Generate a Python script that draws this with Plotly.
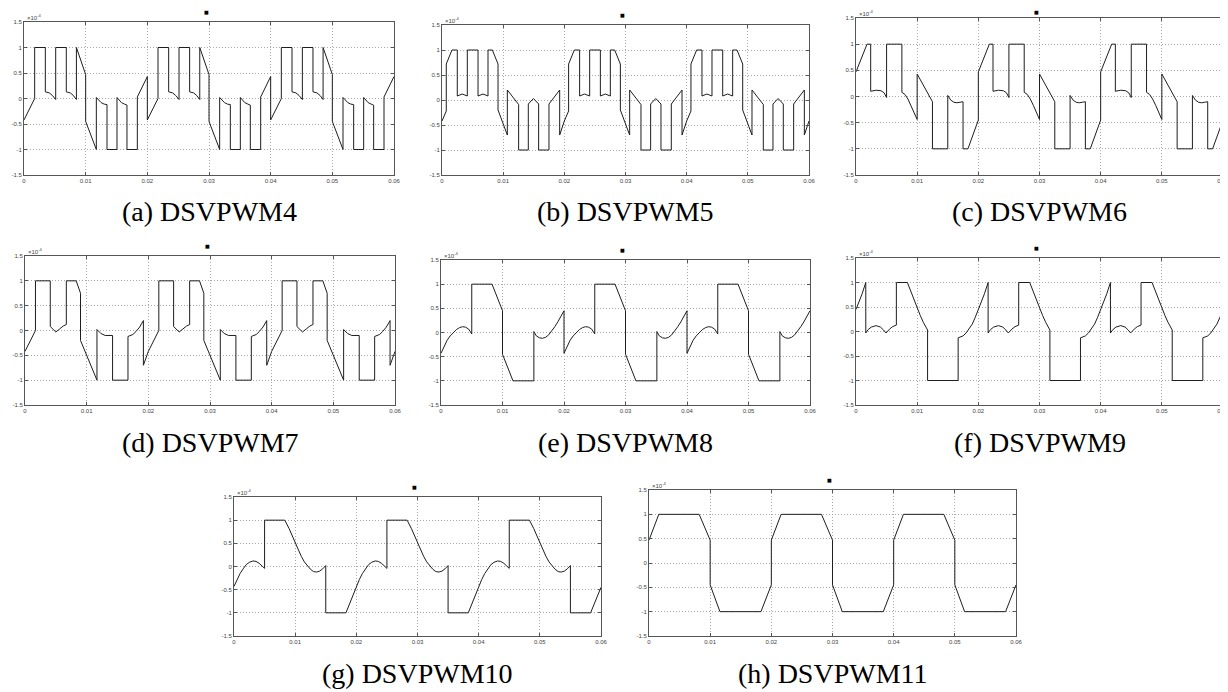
import plotly.graph_objects as go

# ---------------- data (values in units of 1e-4, one 0.02 s cycle each) -------------
T_PERIOD = 0.02
N_PERIODS = 3

t_dsvpwm4 = [0, 0.00173, 0.00173, 0.00346, 0.00346, 0.0041, 0.0046, 0.00514, 0.00514, 0.00686,
             0.00686, 0.0075, 0.0080, 0.0085, 0.0085, 0.0100, 0.0100, 0.01173, 0.01173, 0.0125,
             0.0130, 0.01346, 0.01346, 0.01508, 0.01508, 0.0158, 0.0163, 0.0167, 0.0167, 0.01838,
             0.01838, 0.0200]
v_dsvpwm4 = [-0.42, 0.0, 1.0, 1.0, 0.13, 0.11, 0.06, -0.02, 1.0, 1.0,
             0.13, 0.11, 0.06, -0.02, 1.0, 0.47, -0.45, -1.0, 0.02, -0.08,
             -0.11, -0.12, -1.0, -1.0, 0.02, -0.08, -0.11, -0.13, -1.0, -1.0,
             0.03, 0.43]

t_dsvpwm5 = [0, 0.0007, 0.0007, 0.00163, 0.0025, 0.0025, 0.0033, 0.00414, 0.00414, 0.00589,
             0.00589, 0.0067, 0.00752, 0.00752, 0.00823, 0.00916, 0.00916, 0.01068, 0.01068, 0.01253,
             0.01253, 0.01411, 0.01411, 0.01495, 0.0158, 0.0158, 0.01749, 0.01749, 0.01924, 0.01924,
             0.0200]
v_dsvpwm5 = [-0.42, -0.22, 0.72, 1.0, 1.0, 0.08, 0.12, 0.08, 1.0, 1.0,
             0.08, 0.12, 0.08, 1.0, 1.0, 0.72, -0.2, -0.7, 0.2, -0.09,
             -1.0, -1.0, -0.08, 0.03, -0.08, -1.0, -1.0, -0.08, 0.2, -0.7,
             -0.42]

t_dsvpwm6 = [0, 0.0018, 0.0024, 0.0024, 0.0033, 0.0041, 0.0046, 0.0050, 0.0050, 0.0075,
             0.0075, 0.0080, 0.0085, 0.0090, 0.0095, 0.0100, 0.0100, 0.0105, 0.0110, 0.0115,
             0.0120, 0.0125, 0.0125, 0.0150, 0.0150, 0.0155, 0.0160, 0.0165, 0.0170, 0.0175,
             0.0175, 0.0183, 0.0200]
v_dsvpwm6 = [0.47, 1.0, 1.0, 0.1, 0.12, 0.11, 0.07, -0.02, 1.0, 1.0,
             0.08, 0.04, -0.05, -0.17, -0.3, -0.44, 0.43, 0.32, 0.21, 0.1,
             0.0, -0.1, -1.0, -1.0, 0.02, -0.07, -0.11, -0.12, -0.11, -0.1,
             -1.0, -1.0, -0.45]

t_dsvpwm7 = [0, 0.0017, 0.0017, 0.0041, 0.0041, 0.0045, 0.0050, 0.0056, 0.0062, 0.0067,
             0.0067, 0.0083, 0.0090, 0.0090, 0.01167, 0.01167, 0.0123, 0.0130, 0.0142, 0.0142,
             0.0167, 0.0167, 0.0175, 0.0180, 0.0186, 0.0192, 0.0192, 0.0200]
v_dsvpwm7 = [-0.42, 0.0, 1.0, 1.0, 0.08, 0.03, -0.03, 0.03, 0.09, 0.12,
             1.0, 1.0, 0.75, -0.2, -1.0, 0.02, -0.06, -0.1, -0.1, -1.0,
             -1.0, -0.12, -0.08, -0.02, 0.07, 0.2, -0.7, -0.42]

t_dsvpwm8 = [0, 0.0005, 0.0010, 0.0015, 0.0020, 0.0025, 0.0030, 0.0035, 0.0040, 0.0045,
             0.0050, 0.0050, 0.0083, 0.0100, 0.0100, 0.0117, 0.0151, 0.0151, 0.0155, 0.0160,
             0.0165, 0.0170, 0.0175, 0.0180, 0.0185, 0.0190, 0.0195, 0.0200]
v_dsvpwm8 = [-0.43, -0.28, -0.16, -0.07, 0.0, 0.06, 0.1, 0.12, 0.11, 0.07,
             -0.03, 1.0, 1.0, 0.45, -0.45, -1.0, -1.0, 0.02, -0.07, -0.11,
             -0.12, -0.10, -0.05, 0.03, 0.12, 0.22, 0.33, 0.45]

t_dsvpwm9 = [0, 0.0005, 0.0010, 0.0016, 0.0016, 0.0020, 0.0025, 0.0033, 0.0040, 0.0045,
             0.0049, 0.0055, 0.0060, 0.0066, 0.0066, 0.0084, 0.0090, 0.0095, 0.0100, 0.0105,
             0.0110, 0.0117, 0.0117, 0.0167, 0.0167, 0.0170, 0.0175, 0.0180, 0.0185, 0.0190,
             0.0195, 0.0200]
v_dsvpwm9 = [0.45, 0.6, 0.77, 1.0, -0.03, 0.04, 0.09, 0.12, 0.09, 0.03,
             -0.03, 0.05, 0.1, 0.13, 1.0, 1.0, 0.8, 0.64, 0.48, 0.33,
             0.19, 0.03, -1.0, -1.0, -0.13, -0.12, -0.09, -0.03, 0.05, 0.15,
             0.29, 0.45]

t_dsvpwm10 = [0, 0.0005, 0.0010, 0.0015, 0.0020, 0.0025, 0.0031, 0.0036, 0.0041, 0.0046,
              0.0050, 0.0050, 0.0083, 0.0090, 0.0095, 0.0100, 0.0105, 0.0110, 0.0115, 0.0120,
              0.0125, 0.0130, 0.0135, 0.0140, 0.0145, 0.0150, 0.0150, 0.0183, 0.0200]
v_dsvpwm10 = [-0.43, -0.28, -0.15, -0.05, 0.04, 0.09, 0.12, 0.11, 0.07, 0.01,
              -0.04, 1.0, 1.0, 0.82, 0.66, 0.5, 0.35, 0.22, 0.1, 0.01,
              -0.06, -0.11, -0.12, -0.1, -0.05, 0.02, -1.0, -1.0, -0.45]

t_dsvpwm11 = [0, 0.0016, 0.0082, 0.0100, 0.0100, 0.0116, 0.0183, 0.0200]
v_dsvpwm11 = [0.47, 1.0, 1.0, 0.47, -0.45, -1.0, -1.0, -0.45]

captions = ["(a) DSVPWM4", "(b) DSVPWM5", "(c) DSVPWM6", "(d) DSVPWM7",
            "(e) DSVPWM8", "(f) DSVPWM9", "(g) DSVPWM10", "(h) DSVPWM11"]
series = [(t_dsvpwm4, v_dsvpwm4), (t_dsvpwm5, v_dsvpwm5), (t_dsvpwm6, v_dsvpwm6),
          (t_dsvpwm7, v_dsvpwm7), (t_dsvpwm8, v_dsvpwm8), (t_dsvpwm9, v_dsvpwm9),
          (t_dsvpwm10, v_dsvpwm10), (t_dsvpwm11, v_dsvpwm11)]

x_ticks = [0, 0.01, 0.02, 0.03, 0.04, 0.05, 0.06]
x_ticktext = ["0", "0.01", "0.02", "0.03", "0.04", "0.05", "0.06"]
y_ticks = [-1.5, -1, -0.5, 0, 0.5, 1, 1.5]
y_ticktext = ["-1.5", "-1", "-0.5", "0", "0.5", "1", "1.5"]

# ---------------- layout geometry (pixels) ----------------
W, H = 1228, 692
boxes = [  # x0, x1, y0(top), y1(bottom)
    (16, 386, 14, 167), (434, 801, 17, 167), (848, 1215, 10, 167),
    (17, 387, 248, 397), (433, 802, 252, 397), (848, 1215, 250, 397),
    (226, 593, 489, 628), (641, 1008, 482, 628),
]
caption_y = [203, 203, 203, 434, 434, 434, 665, 665]
marker_shift = [10, 10, 6, 10, 10, 10, 10, 10]


def tile(t, v):
    tt, vv = [], []
    for k in range(N_PERIODS):
        tt += [x + k * T_PERIOD for x in t]
        vv += list(v)
    return tt, vv


fig = go.Figure()
layout = dict(width=W, height=H, margin=dict(l=0, r=0, t=0, b=0, autoexpand=False),
              paper_bgcolor="white", plot_bgcolor="white", showlegend=False)
annotations = []

for i, ((t, v), (x0, x1, y0, y1), cap, cy) in enumerate(zip(series, boxes, captions, caption_y)):
    n = "" if i == 0 else str(i + 1)
    tt, vv = tile(t, v)
    fig.add_trace(go.Scatter(x=tt, y=vv, mode="lines",
                             line=dict(color="#1e1e1e", width=1),
                             xaxis="x" + n, yaxis="y" + n, hoverinfo="skip"))
    common = dict(showline=True, linecolor="#555555", linewidth=1, mirror="ticks",
                  ticks="inside", ticklen=3, tickcolor="#555555", automargin=False,
                  showgrid=True, gridcolor="#a8a8a8", griddash="1px,2px", gridwidth=1,
                  zeroline=False, tickfont=dict(family="Liberation Sans", size=6, color="#444444"))
    layout["xaxis" + n] = dict(domain=[x0 / W, x1 / W], anchor="y" + n, range=[0, 0.06],
                               tickmode="array", tickvals=x_ticks, ticktext=x_ticktext, **common)
    layout["yaxis" + n] = dict(domain=[1 - y1 / H, 1 - y0 / H], anchor="x" + n, range=[-1.5, 1.5],
                               tickmode="array", tickvals=y_ticks, ticktext=y_ticktext, **common)
    # exponent label
    annotations.append(dict(xref="x" + n + " domain", yref="y" + n + " domain", x=0, y=1,
                            xanchor="left", yanchor="bottom", xshift=1, yshift=-1, showarrow=False,
                            text="×10<sup>-4</sup>",
                            font=dict(family="Liberation Sans", size=6, color="#444444")))
    # tiny title marker
    annotations.append(dict(xref="x" + n + " domain", yref="y" + n + " domain", x=0.493, y=1,
                            xanchor="center", yanchor="middle", yshift=marker_shift[i], showarrow=False,
                            text="■", font=dict(family="DejaVu Sans", size=5, color="black")))
    # caption
    annotations.append(dict(xref="paper", yref="paper", x=(x0 + x1) / 2 / W, y=1 - cy / H,
                            xanchor="center", yanchor="middle", showarrow=False, text=cap,
                            font=dict(family="Liberation Serif", size=28, color="black")))

layout["annotations"] = annotations
fig.update_layout(**layout)
fig.write_html("out.html")
